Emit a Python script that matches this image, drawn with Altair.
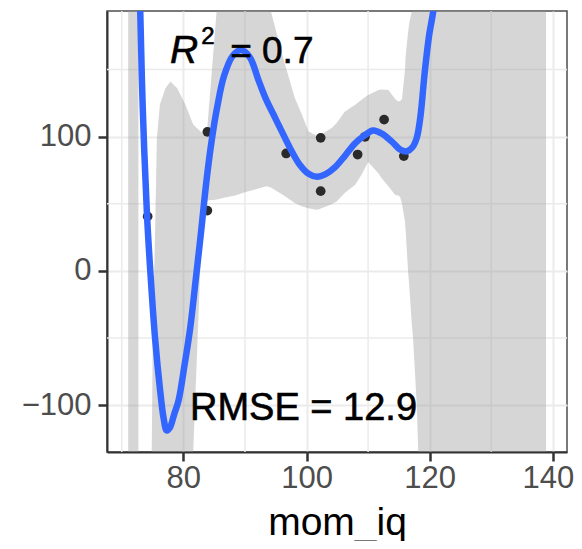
import altair as alt
import pandas as pd

# observed points
mom_iq = [74.2, 83.9, 83.9, 96.7, 102.3, 102.3, 108.3, 109.5, 112.6, 115.8]
kid_score = [40.5, 103.5, 44.8, 87.4, 99.0, 59.3, 86.6, 99.8, 112.6, 85.4]

# fitted polynomial curve
fit_x = [72.9, 73.0, 73.4, 74.1, 74.7, 75.4, 76.2, 76.8, 77.3, 77.8, 78.5, 79.2,
         80.2, 81.1, 82.0, 82.9, 83.7, 84.6, 85.5, 86.6, 88.0, 89.4, 90.8, 92.2,
         93.4, 95.0, 96.5, 97.6, 98.9, 100.4, 101.7, 103.1, 104.6, 106.3, 107.9,
         109.5, 110.8, 112.3, 113.9, 115.3, 116.3, 117.2, 117.9, 118.5, 119.2,
         119.9, 120.6, 121.0]
fit_y = [215, 193, 122, 41, -5, -50, -88, -110, -119, -117, -107, -97,
         -70, -43, -7, 30, 65, 97, 122, 145, 160, 164.5, 159, 142,
         128, 113, 99, 89, 79, 72, 70, 72, 77, 86, 95,
         101, 104.5, 102, 96, 90, 89, 92, 99, 115, 148,
         175, 194, 215]

# confidence band, visible parts
band_x = [74.86, 75.05, 75.4, 75.7, 76.2, 77.1, 77.9, 79.0, 80.3, 81.6, 82.4,
          83.0, 83.4, 83.8, 84.1, 84.9, 85.4, 86.8, 88.4, 90.0, 93.5, 94.2,
          96.2, 98.1, 99.2, 100.3, 101.6, 101.9, 104.1, 104.9, 106.2, 107.9,
          109.0, 110.0, 111.7, 112.2, 113.3, 114.4, 114.9, 115.2, 115.5, 116.0,
          116.1, 116.5, 116.7, 117.1, 117.3, 117.9, 118.15, 138.9]
band_lo = [-135, -135, -135, -135, -135, -135, -135, -135, -135, -135, -40,
           34, 50, 52, 52.5, 52.7, 53, 54.5, 56, 58.5, 63, 62,
           56.5, 50.5, 48, 46.5, 45.5, 45.6, 49.5, 51.6, 58, 64,
           72, 81, 72.5, 69, 63, 56.4, 56, 55, 50, 36.6,
           30, -1, -12, -40, -50, -100, -135, -135]
band_hi = [-135, -40, 27, 99, 124, 136, 141, 136, 124, 109, 105.5,
           103, 102, 101.5, 118.7, 164.7, 193.5, 193.5, 193.5, 193.5, 193.5, 193.5,
           158.5, 128.7, 117, 104, 100.5, 100.2, 106.4, 110, 118.5, 123.7,
           127.5, 131, 134.7, 135, 134.7, 128, 126, 126.5, 128, 150,
           160, 178, 185, 193.5, 193.5, 193.5, 193.5, 193.5]
strip_x = [71.04, 72.7]
strip_lo = [-135, -135]
strip_hi = [193.5, 193.5]

x_major = [80, 100, 120, 140]
x_minor = [70, 90, 110, 130]
y_major = [-100, 0, 100]
y_minor = [-50, 50, 150]

pts = pd.DataFrame({"x": mom_iq, "y": kid_score})
fit = pd.DataFrame({"x": fit_x, "y": fit_y})
band = pd.concat([
    pd.DataFrame({"x": strip_x, "lo": strip_lo, "hi": strip_hi, "piece": "a"}),
    pd.DataFrame({"x": band_x, "lo": band_lo, "hi": band_hi, "piece": "b"}),
])

FONT = "Liberation Sans"
xs = alt.Scale(domain=[67.6, 142.3], nice=False, zero=False)
ys = alt.Scale(domain=[-135, 193.5], nice=False, zero=False)
xax = alt.Axis(values=x_major, title="mom_iq", grid=True, labelPadding=2,
               labelOffset=alt.ExprRef("datum.value == 140 ? -5 : 0"),
               titleBaseline="alphabetic", titleY=82)
yax = alt.Axis(values=y_major, title=None, grid=True, labelPadding=7)

X = lambda f="x": alt.X(f + ":Q", scale=xs, axis=xax)
Y = lambda f="y": alt.Y(f + ":Q", scale=ys, axis=yax)

minor_v = alt.Chart(pd.DataFrame({"x": x_minor})).mark_rule(
    color="#ebebeb", strokeWidth=1.5).encode(x=X())
minor_h = alt.Chart(pd.DataFrame({"y": y_minor})).mark_rule(
    color="#ebebeb", strokeWidth=1.5).encode(y=Y())

ribbon = alt.Chart(band).mark_area(
    color="#999999", opacity=0.4, clip=True, interpolate="linear").encode(
    x=X(), y=Y("lo"), y2="hi:Q", detail="piece:N")

points = alt.Chart(pts).mark_circle(size=95, color="#2a2a2a", opacity=1).encode(
    x=X(), y=Y())

line = alt.Chart(fit).mark_line(
    color="#3366FF", strokeWidth=6.5, clip=True, interpolate="catmull-rom").encode(
    x=X(), y=Y())

txt = dict(font=FONT, align="left", baseline="alphabetic", color="black",
           stroke="black", strokeWidth=0.6)
ann_r = alt.Chart(pd.DataFrame({"x": [77.83], "y": [154.4], "t": ["R"]})).mark_text(
    fontSize=39, fontStyle="italic", **txt).encode(x=X(), y=Y(), text="t:N")
ann_sup = alt.Chart(pd.DataFrame({"x": [82.9], "y": [168.9], "t": ["2"]})).mark_text(
    fontSize=24, **txt).encode(x=X(), y=Y(), text="t:N")
ann_eq = alt.Chart(pd.DataFrame({"x": [87.6], "y": [154.4], "t": ["= 0.7"]})).mark_text(
    fontSize=37, **txt).encode(x=X(), y=Y(), text="t:N")
ann_rmse = alt.Chart(pd.DataFrame({"x": [81.08], "y": [-111.2], "t": ["RMSE = 12.9"]})).mark_text(
    fontSize=38, **txt).encode(x=X(), y=Y(), text="t:N")

chart = alt.layer(minor_v, minor_h, ribbon, points, line,
                  ann_r, ann_sup, ann_eq, ann_rmse).properties(
    width=460, height=441,
    autosize=alt.AutoSizeParams(type="none"),
    padding={"left": 99, "top": 3, "right": 7, "bottom": 89},
).configure_axis(
    domainColor="#333333", domainWidth=2, tickColor="#333333", tickWidth=2.5,
    tickSize=9, labelFont=FONT, labelFontSize=31, labelColor="#4d4d4d",
    titleFont=FONT, titleFontSize=39, titleColor="black", titleFontWeight="normal",
    gridColor="#ebebeb", gridWidth=2,
).configure_view(stroke="#4d4d4d", strokeWidth=1.5)

chart.save("out.html", embed_options={"renderer": "svg", "actions": False})
